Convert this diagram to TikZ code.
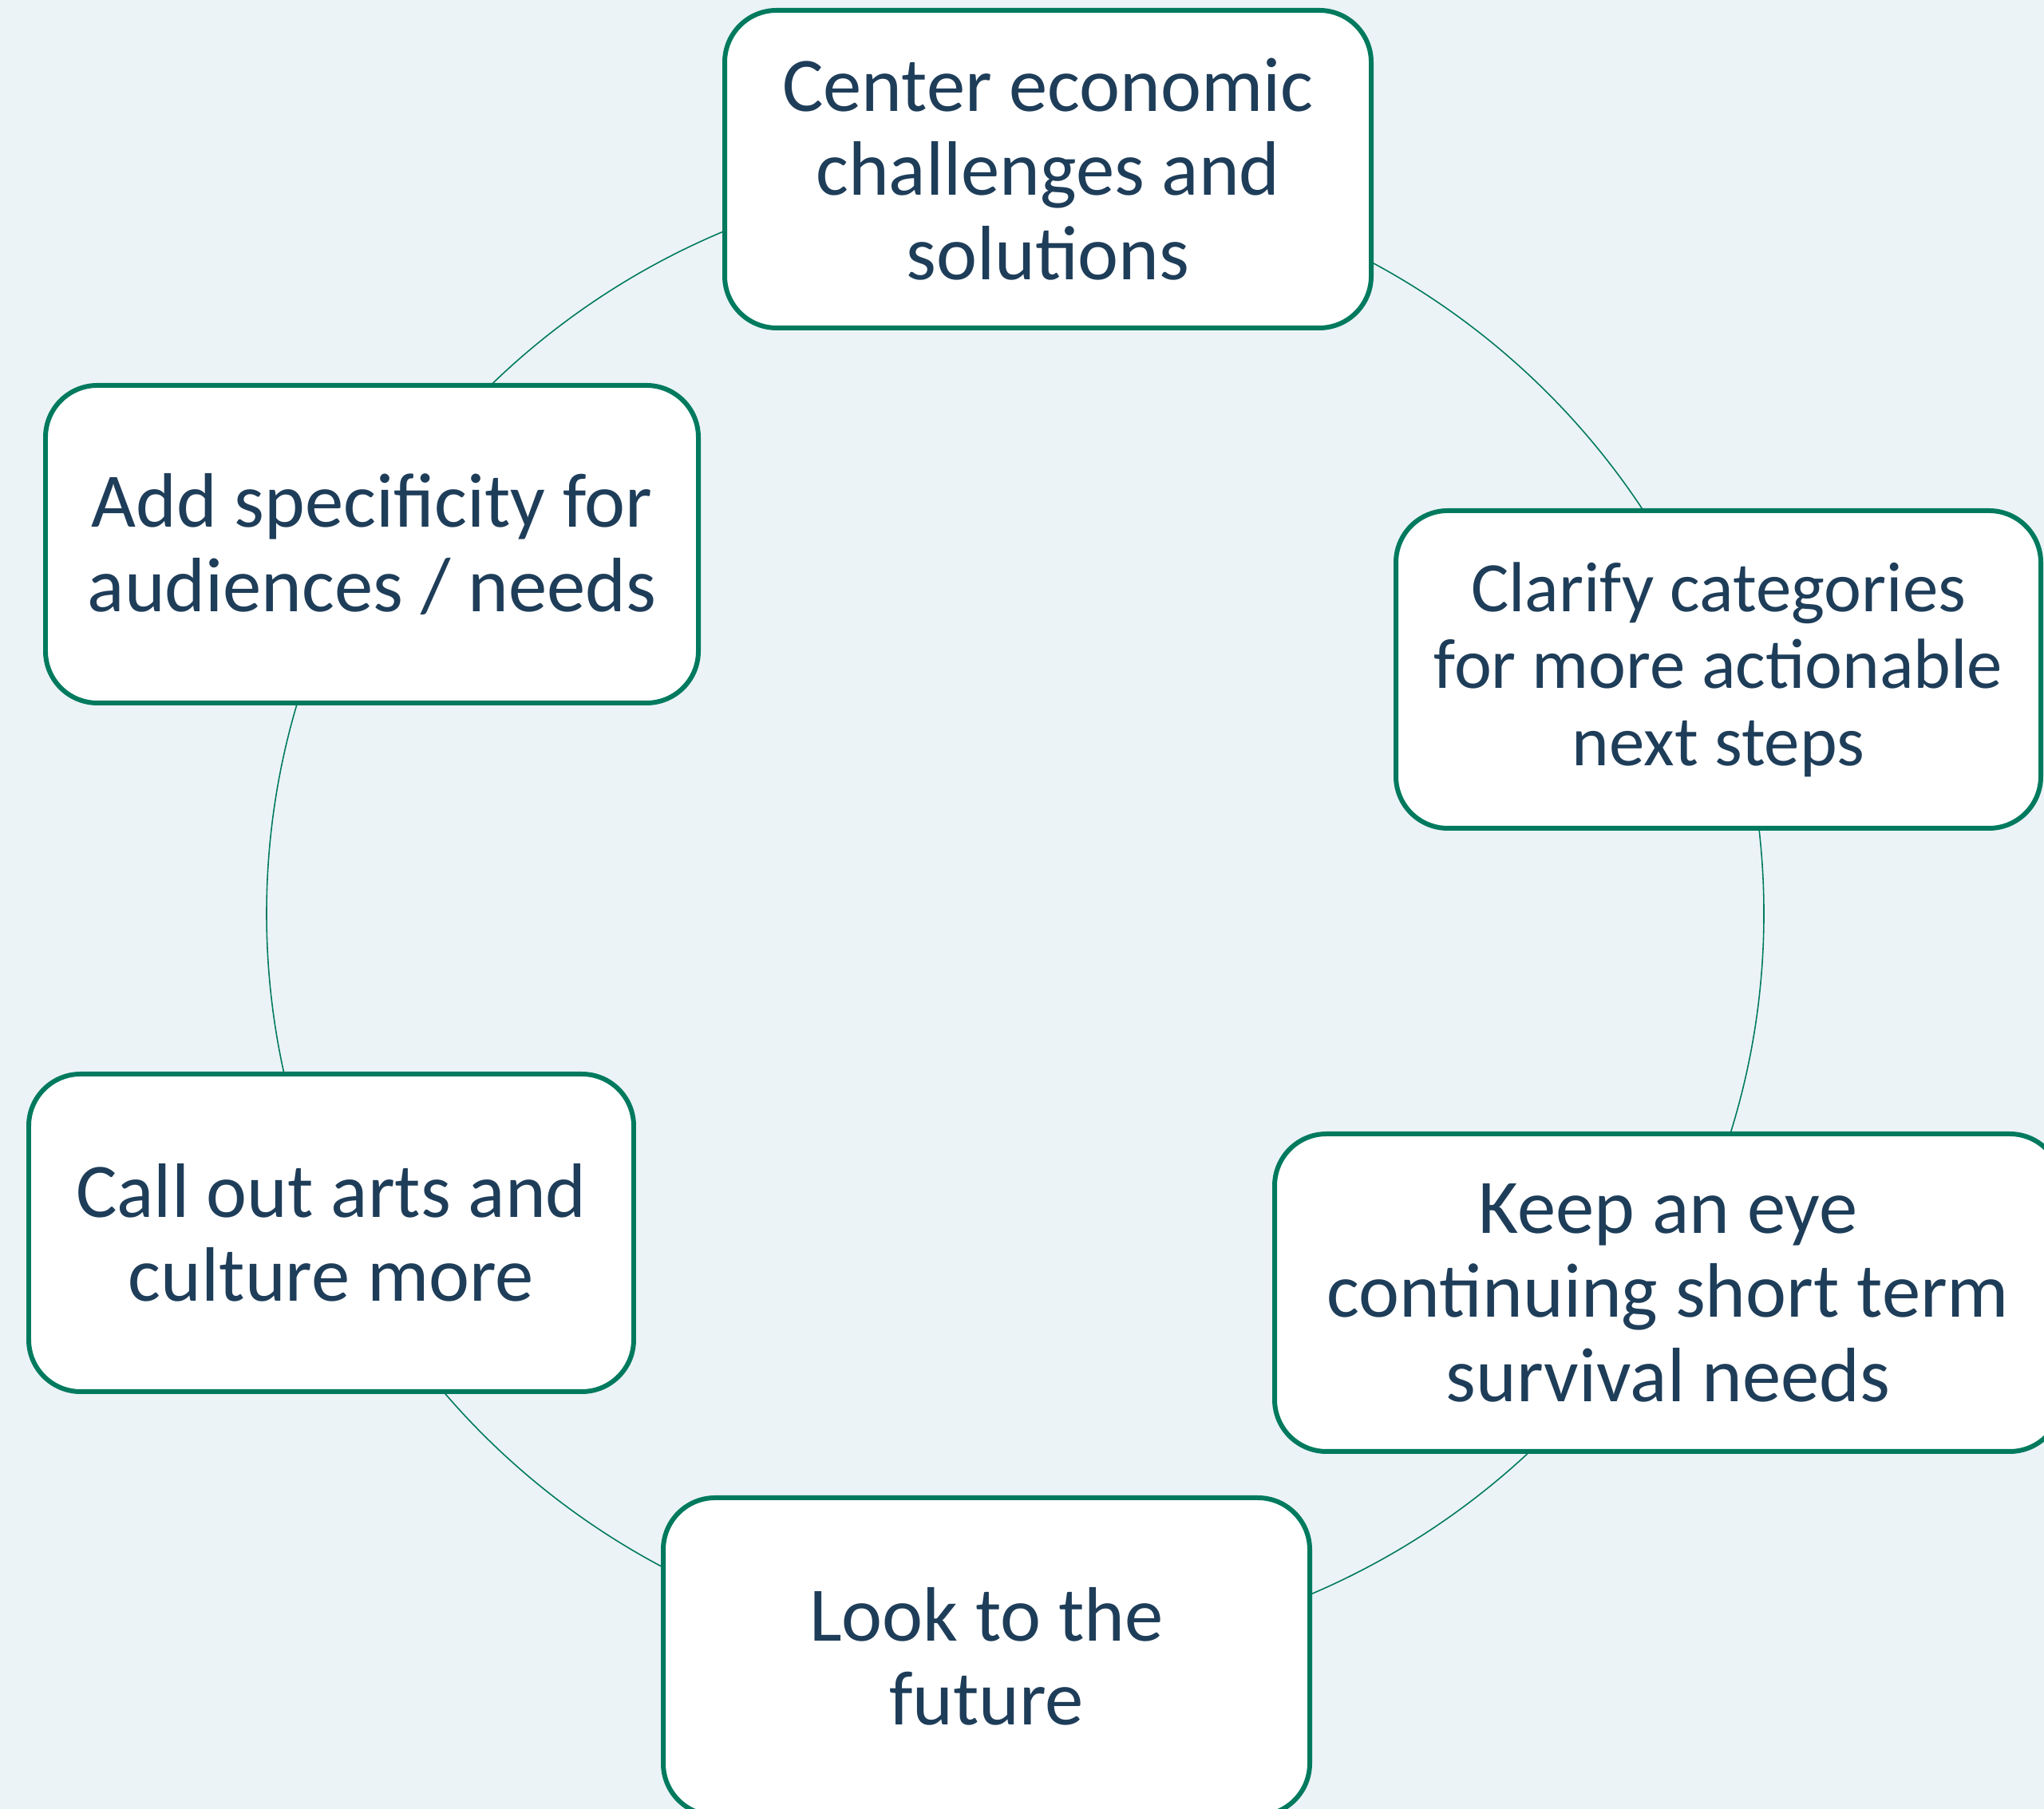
\documentclass[tikz,border=0pt]{standalone}
\usepackage{fontspec}
\setmainfont{Carlito}
\definecolor{bgblue}{HTML}{EBF3F6}
\definecolor{ringgreen}{HTML}{007A5E}
\definecolor{inknavy}{HTML}{1E3D59}
\newcommand{\drawtopic}{\node[draw=ringgreen, line width=1.7pt, fill=white, rounded corners=0.65cm, align=center, text=inknavy, font=\fontsize{27.5}{30}\selectfont, minimum height=3.98cm]}
\newcommand{\drawdummy}{\node[minimum size=0,inner sep=0]}

\begin{document}
\begin{tikzpicture}
%background and page size
\fill[bgblue] (0,0) rectangle (25.61,22.67);
\useasboundingbox (0,0) rectangle (25.61,22.67);
\drawdummy (ctr) at (12.72,11.22) {};
%the ring behind the boxes
\draw[ringgreen, line width=0.45pt] (ctr) ellipse [x radius=9.38, y radius=9.28];
\drawtopic[minimum width=8.10cm] (top) at (13.13,20.55) {Center economic\\challenges and\\solutions};
\drawtopic[minimum width=8.08cm, font=\fontsize{25.3}{27.5}\selectfont] (clarify) at (21.53,14.28) {Clarify categories\\for more actionable\\next steps};
\drawtopic[minimum width=9.86cm] (keep) at (20.90,6.47) {Keep an eye\\continuing short term\\survival needs};
\drawtopic[minimum width=8.10cm] (future) at (12.36,1.91) {Look to the\\future};
\drawtopic[minimum width=7.58cm] (arts) at (4.15,7.22) {Call out arts and\\culture more};
\drawtopic[minimum width=8.18cm] (add) at (4.66,15.85) {Add specificity for\\audiences / needs};
\end{tikzpicture}
\end{document}
